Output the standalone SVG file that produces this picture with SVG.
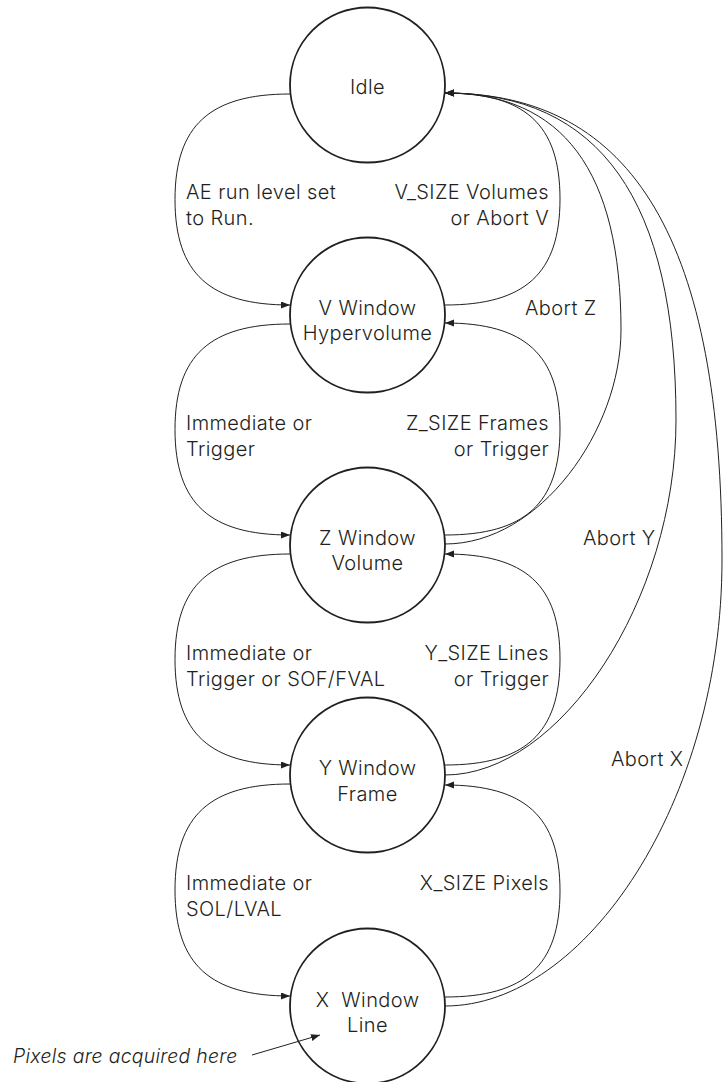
<svg xmlns="http://www.w3.org/2000/svg" width="723" height="1082" viewBox="0 0 723 1082">
<style>
.node{fill:none;stroke:#231f20;stroke-width:1.8}
.lbl{font-family:Inter,"Liberation Sans",sans-serif;font-size:20px;letter-spacing:0.4px;fill:#231f20;font-weight:300}
.c{text-anchor:middle}
.r{text-anchor:end}
.edge{fill:none;stroke:#231f20;stroke-width:1}
.arr{marker-end:url(#ah)}
</style>
<defs>
<marker id="ah" markerUnits="userSpaceOnUse" markerWidth="10" markerHeight="8" refX="9" refY="3.5" orient="auto">
<path d="M0,0 L9,3.5 L0,7 z" fill="#231f20"/>
</marker>
</defs>
<rect width="723" height="1082" fill="#fff"/>
<g id="connectors">
<path class="edge arr" d="M290,94 C210,94 175,125.5 175,199.5 C175,273.5 210,305 290,305"/>
<path class="edge arr" d="M290,324 C210,324 175,355.5 175,429.5 C175,503.5 210,535 290,535"/>
<path class="edge arr" d="M290,554 C210,554 175,585.5 175,659.5 C175,733.5 210,765 290,765"/>
<path class="edge arr" d="M290,784 C210,784 175,815.5 175,890 C175,964.5 210,996 290,996"/>
<path class="edge arr" d="M445,305 C525,305 560,273.5 560,199 C560,124.5 525,93 445,93"/>
<path class="edge arr" d="M445,535 C525,535 560,503.5 560,429 C560,354.5 525,323 445,323"/>
<path class="edge arr" d="M445,765 C525,765 560,733.5 560,659 C560,584.5 525,554 445,554"/>
<path class="edge arr" d="M445,997 C525,997 560,965.5 560,891 C560,816.5 525,785 445,785"/>
<path class="edge arr" d="M445,544 C540,544 621,430 621,330 C621,171 563,93 445,93"/>
<path class="edge arr" d="M445,775 C560,775 676,600 676,420 C676,200 600,93 445,93"/>
<path class="edge arr" d="M445,1006 C586,1006 722,800 722,560 C722,244 635,93 445,93"/>
<path class="edge arr" d="M252,1055 L320,1035"/>
</g>
<g id="idle"><circle class="node" cx="367.5" cy="85" r="77.5"/><text class="lbl c" x="367.5" y="94">Idle</text></g>
<g id="v-window"><circle class="node" cx="367.5" cy="315" r="77.5"/><text class="lbl c" x="367.5" y="315">V Window</text><text class="lbl c" x="367.5" y="340">Hypervolume</text></g>
<g id="z-window"><circle class="node" cx="367.5" cy="545" r="77.5"/><text class="lbl c" x="367.5" y="545">Z Window</text><text class="lbl c" x="367.5" y="570">Volume</text></g>
<g id="y-window"><circle class="node" cx="367.5" cy="775" r="77.5"/><text class="lbl c" x="367.5" y="775">Y Window</text><text class="lbl c" x="367.5" y="801">Frame</text></g>
<g id="x-window"><circle class="node" cx="367.5" cy="1006" r="77.5"/><text class="lbl c" x="367.5" y="1007" xml:space="preserve">X  Window</text><text class="lbl c" x="367.5" y="1032">Line</text></g>
<g id="labels">
<text class="lbl" x="186" y="199">AE run level set</text>
<text class="lbl" x="186" y="225">to Run.</text>
<text class="lbl r" x="549" y="199">V_SIZE Volumes</text>
<text class="lbl r" x="549" y="225">or Abort V</text>
<text class="lbl" x="525" y="315">Abort Z</text>
<text class="lbl" x="186" y="430">Immediate or</text>
<text class="lbl" x="186" y="456">Trigger</text>
<text class="lbl r" x="549" y="430">Z_SIZE Frames</text>
<text class="lbl r" x="549" y="456">or Trigger</text>
<text class="lbl" x="583" y="545">Abort Y</text>
<text class="lbl" x="186" y="660">Immediate or</text>
<text class="lbl" x="186" y="686">Trigger or SOF/FVAL</text>
<text class="lbl r" x="549" y="660">Y_SIZE Lines</text>
<text class="lbl r" x="549" y="686">or Trigger</text>
<text class="lbl" x="611" y="766">Abort X</text>
<text class="lbl" x="186" y="890">Immediate or</text>
<text class="lbl" x="186" y="916">SOL/LVAL</text>
<text class="lbl r" x="549" y="890">X_SIZE Pixels</text>
<text class="lbl" x="13" y="1063" font-style="italic" style="font-size:19.4px;letter-spacing:0.3px">Pixels are acquired here</text>
</g>
</svg>
